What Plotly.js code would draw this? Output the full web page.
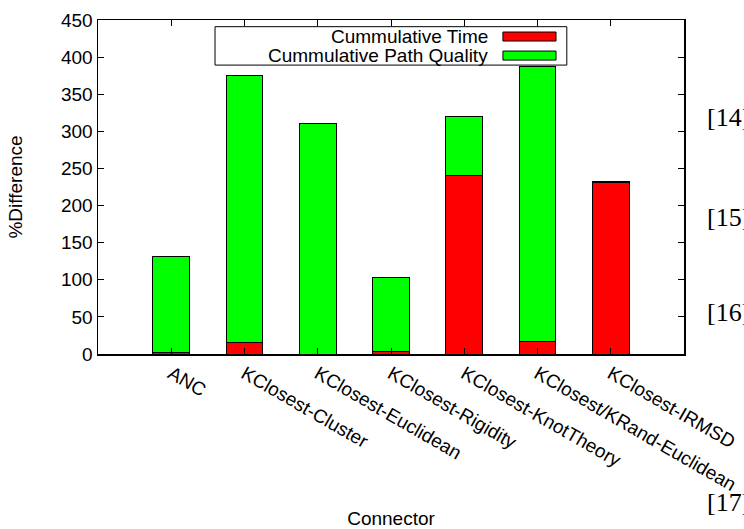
<!DOCTYPE html>
<html>
<head>
<meta charset="utf-8">
<script src="https://cdn.plot.ly/plotly-3.0.1.min.js"></script>
<style>html,body{margin:0;padding:0;background:#fff;}#chart{width:744px;height:529px;}</style>
</head>
<body>
<div id="chart"></div>
<script>
const categories = ["ANC", "KClosest-Cluster", "KClosest-Euclidean", "KClosest-Rigidity", "KClosest-KnotTheory", "KClosest/KRand-Euclidean", "KClosest-IRMSD"];
const cumTime = [2, 15, 0, 3, 240, 17, 231];
const cumPathQuality = [130, 360, 311, 100, 80, 370, 1];
const seriesNames = ["Cummulative Time", "Cummulative Path Quality"];
const yTicks = [0, 50, 100, 150, 200, 250, 300, 350, 400, 450];
const sideRefs = ["[14]", "[15]", "[16]", "[17]"];

const font = "Liberation Sans, Arial, sans-serif";
const fs = 19;
const traces = [
  {type: "bar", x: categories, y: cumTime, name: seriesNames[0], width: 0.5,
   marker: {color: "#ff0000", line: {color: "#000", width: 1}}, showlegend: false},
  {type: "bar", x: categories, y: cumPathQuality, name: seriesNames[1], width: 0.5,
   marker: {color: "#00ff00", line: {color: "#000", width: 1}}, showlegend: false}
];

const refY = [0.7066, 0.41, 0.1257, -0.446];
const annotations = [
  {xref: "paper", yref: "paper", x: 0.669, y: 0.951, xanchor: "right", yanchor: "middle", showarrow: false, text: seriesNames[0], font: {family: font, size: fs, color: "#000"}},
  {xref: "paper", yref: "paper", x: 0.669, y: 0.894, xanchor: "right", yanchor: "middle", showarrow: false, text: seriesNames[1], font: {family: font, size: fs, color: "#000"}}
];
sideRefs.forEach((t, i) => annotations.push({xref: "paper", yref: "paper", x: 1.035, y: refY[i], xanchor: "left", yanchor: "middle", showarrow: false, text: t, font: {family: "Liberation Serif, Times New Roman, serif", size: 26, color: "#000"}}));

const shapes = [
  {type: "rect", xref: "paper", yref: "paper", x0: 0.1997, x1: 0.800, y0: 0.865, y1: 0.980, fillcolor: "#fff", line: {color: "#000", width: 1}, layer: "above"},
  {type: "rect", xref: "paper", yref: "paper", x0: 0.691, x1: 0.7816, y0: 0.937, y1: 0.964, fillcolor: "#ff0000", line: {color: "#000", width: 1}, layer: "above"},
  {type: "rect", xref: "paper", yref: "paper", x0: 0.691, x1: 0.7816, y0: 0.880, y1: 0.907, fillcolor: "#00ff00", line: {color: "#000", width: 1}, layer: "above"}
];

const layout = {
  width: 744, height: 529,
  margin: {l: 98, r: 60, t: 20, b: 175},
  paper_bgcolor: "#fff", plot_bgcolor: "#fff",
  barmode: "stack",
  font: {family: font, size: fs, color: "#000"},
  xaxis: {
    type: "category", range: [-1, 7], tickangle: 30,
    ticks: "inside", ticklen: 6, tickcolor: "#000", showline: true, linecolor: "#000", linewidth: 1.5, mirror: "ticks",
    showgrid: false, zeroline: false, automargin: false,
    tickfont: {family: font, size: fs},
    title: {text: "Connector", font: {family: font, size: fs}, standoff: 25}
  },
  yaxis: {
    range: [0, 450], tickvals: yTicks, ticktext: yTicks.map(String),
    ticks: "inside", ticklen: 6, tickcolor: "#000", showline: true, linecolor: "#000", linewidth: 1.5, mirror: "ticks",
    showgrid: false, zeroline: false, automargin: false,
    tickfont: {family: font, size: fs},
    title: {text: "%Difference", font: {family: font, size: fs}, standoff: 33}
  },
  shapes: shapes,
  annotations: annotations
};
Plotly.newPlot("chart", traces, layout, {displayModeBar: false, staticPlot: true});
</script>
</body>
</html>
